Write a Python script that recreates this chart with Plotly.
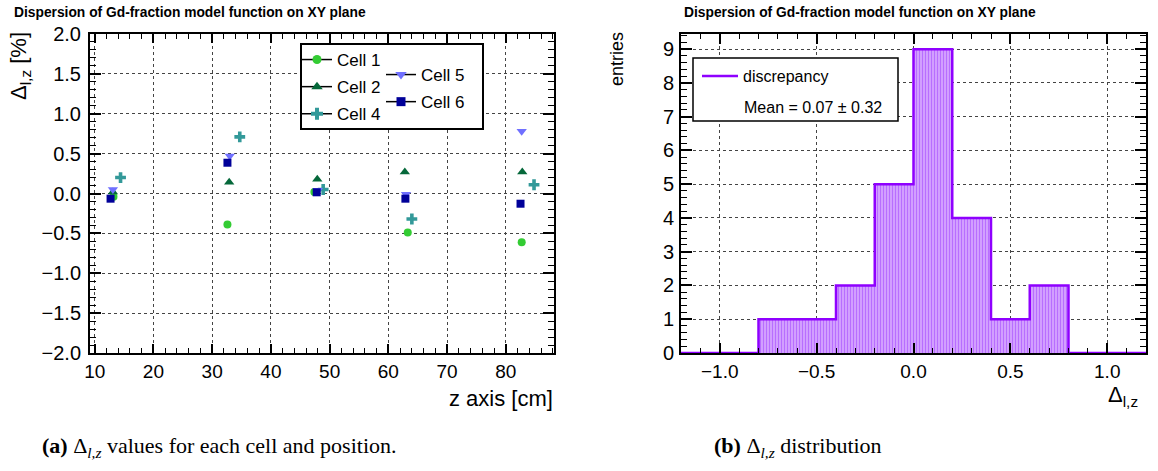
import plotly.graph_objects as go

# ---------------- data ----------------
cell_names = ["Cell 1", "Cell 2", "Cell 4", "Cell 5", "Cell 6"]
cell1_z = [13.2, 32.6, 47.4, 63.3, 82.7]
cell1_v = [-0.04, -0.39, 0.02, -0.49, -0.61]
cell2_z = [13.1, 32.9, 47.9, 62.8, 82.8]
cell2_v = [0.02, 0.14, 0.18, 0.27, 0.27]
cell4_z = [14.4, 34.7, 48.9, 64.0, 84.8]
cell4_v = [0.20, 0.71, 0.05, -0.32, 0.11]
cell5_z = [13.1, 33.0, 48.0, 63.0, 82.7]
cell5_v = [0.05, 0.47, 0.04, -0.01, 0.78]
cell6_z = [12.7, 32.6, 47.8, 62.9, 82.5]
cell6_v = [-0.065, 0.386, 0.015, -0.065, -0.128]

bin_edges = [-1.2, -1.0, -0.8, -0.6, -0.4, -0.2, 0.0, 0.2, 0.4, 0.6, 0.8, 1.0, 1.2]
bin_counts = [0, 0, 1, 1, 2, 5, 9, 4, 1, 2, 0, 0]
mean_text = "Mean = 0.07 ± 0.32"

# ---------------- styles ----------------
W, H = 1158, 471
def px(x):
    return x / W
def py(y):
    return 1 - y / H

FONT = "Liberation Sans, Arial, Helvetica, sans-serif"
SERIF = "Liberation Serif, Times New Roman, serif"
cell_styles = {
    "Cell 1": dict(symbol="circle", color="#33cc33", size=8),
    "Cell 2": dict(symbol="triangle-up", color="#05683a", size=9),
    "Cell 4": dict(symbol="cross", color="#339999", size=9),
    "Cell 5": dict(symbol="triangle-down", color="#7070ff", size=9),
    "Cell 6": dict(symbol="square", color="#000099", size=8),
}
cell_data = {
    "Cell 1": (cell1_z, cell1_v),
    "Cell 2": (cell2_z, cell2_v),
    "Cell 4": (cell4_z, cell4_v),
    "Cell 5": (cell5_z, cell5_v),
    "Cell 6": (cell6_z, cell6_v),
}
legend_of = {"Cell 1": "legend", "Cell 2": "legend", "Cell 4": "legend",
             "Cell 5": "legend2", "Cell 6": "legend2"}

fig = go.Figure()

for name in cell_names:
    z, v = cell_data[name]
    st = cell_styles[name]
    fig.add_trace(go.Scatter(
        x=z, y=v, mode="markers", name=name, showlegend=False,
        marker=dict(symbol=st["symbol"], color=st["color"], size=st["size"],
                    line=dict(width=0)),
        xaxis="x", yaxis="y"))
    # legend-only entry (black line + coloured marker, ROOT "lp" style)
    fig.add_trace(go.Scatter(
        x=[None], y=[None], mode="lines+markers", name=name,
        legend=legend_of[name], legendgroup=name,
        line=dict(color="black", width=1.5),
        marker=dict(symbol=st["symbol"], color=st["color"], size=st["size"] + 1,
                    line=dict(width=0)),
        xaxis="x", yaxis="y"))

# histogram fill
centers = [(a + b) / 2 for a, b in zip(bin_edges[:-1], bin_edges[1:])]
fig.add_trace(go.Bar(
    x=centers, y=bin_counts, width=0.2, showlegend=False,
    marker=dict(color="#c990ff",
                line=dict(width=0),
                pattern=dict(shape="|", fgcolor="#9a33ff", bgcolor="#d6a8ff",
                             size=3, solidity=0.45)),
    xaxis="x2", yaxis="y2"))
# histogram outline
fig.add_trace(go.Scatter(
    x=bin_edges, y=bin_counts + [bin_counts[-1]], mode="lines",
    line=dict(color="#8f00ff", width=2.5, shape="hv"),
    name="discrepancy", legend="legend3",
    xaxis="x2", yaxis="y2"))

axis_common = dict(
    showline=True, linecolor="black", linewidth=2, mirror="ticks",
    ticks="inside", tickcolor="black", tickwidth=1.5,
    showgrid=True, gridcolor="#444444", griddash="dot", gridwidth=1,
    zeroline=False, automargin=False,
    tickfont=dict(family=FONT, size=19, color="black"),
)
minor_common = dict(ticks="inside", tickcolor="black", tickwidth=1.2, showgrid=False)

# mirror axes carrying ticks on the top / right sides (ROOT draws ticks on all 4 sides)
mirror_common = dict(showline=False, ticks="inside", tickcolor="black", tickwidth=1.5,
                     showgrid=False, zeroline=False, showticklabels=False, automargin=False)

fig.update_layout(
    width=W, height=H,
    margin=dict(l=0, r=0, t=0, b=0, autoexpand=False),
    paper_bgcolor="white", plot_bgcolor="white",
    bargap=0,
    xaxis=dict(axis_common, domain=[px(90), px(554)], range=[9.2, 88.2],
               tick0=10, dtick=10, ticklen=9,
               minor=dict(minor_common, dtick=2, ticklen=5),
               anchor="y"),
    yaxis=dict(axis_common, domain=[py(353), py(34)], range=[-2, 2],
               tick0=0, dtick=0.5, tickformat=".1f", ticklen=11,
               tickfont=dict(family=FONT, size=20, color="black"), ticklabelstandoff=3,
               minor=dict(minor_common, dtick=0.1, ticklen=6),
               anchor="x"),
    xaxis2=dict(axis_common, domain=[px(681), px(1146)], range=[-1.2, 1.2],
                tick0=0, dtick=0.5, tickformat=".1f", ticklen=10,
                minor=dict(minor_common, dtick=0.1, ticklen=5),
                anchor="y2"),
    yaxis2=dict(axis_common, domain=[py(353), py(34)], range=[0, 9.45],
                tick0=0, dtick=1, ticklen=11, ticklabelstandoff=1,
                tickfont=dict(family=FONT, size=20, color="black"),
                minor=dict(minor_common, dtick=0.2, ticklen=6),
                anchor="x2"),
    xaxis3=dict(mirror_common, overlaying="x", matches="x", side="top", anchor="y",
                tick0=10, dtick=10, ticklen=9, minor=dict(minor_common, dtick=2, ticklen=5)),
    yaxis3=dict(mirror_common, overlaying="y", matches="y", side="right", anchor="x",
                tick0=0, dtick=0.5, ticklen=11, minor=dict(minor_common, dtick=0.1, ticklen=6)),
    xaxis4=dict(mirror_common, overlaying="x2", matches="x2", side="top", anchor="y2",
                tick0=0, dtick=0.5, ticklen=10, minor=dict(minor_common, dtick=0.1, ticklen=5)),
    yaxis4=dict(mirror_common, overlaying="y2", matches="y2", side="right", anchor="x2",
                tick0=0, dtick=1, ticklen=11, minor=dict(minor_common, dtick=0.2, ticklen=6)),
    legend=dict(x=px(297), y=py(42), xanchor="left", yanchor="top",
                bgcolor="rgba(0,0,0,0)", borderwidth=0,
                font=dict(family=FONT, size=17, color="black"),
                tracegroupgap=2, itemwidth=30),
    legend2=dict(x=px(381), y=py(57), xanchor="left", yanchor="top",
                 bgcolor="rgba(0,0,0,0)", borderwidth=0,
                 font=dict(family=FONT, size=17, color="black"),
                 tracegroupgap=2, itemwidth=30),
    legend3=dict(x=px(697), y=py(59), xanchor="left", yanchor="top",
                 bgcolor="rgba(0,0,0,0)", borderwidth=0,
                 font=dict(family=FONT, size=16, color="black"), itemwidth=36),
    shapes=[
        dict(type="rect", xref="paper", yref="paper",
             x0=px(301), x1=px(483), y0=py(129), y1=py(44),
             line=dict(color="black", width=2), fillcolor="white", layer="above"),
        dict(type="rect", xref="paper", yref="paper",
             x0=px(693), x1=px(898), y0=py(121), y1=py(58),
             line=dict(color="black", width=1.5), fillcolor="white", layer="above"),
    ],
    annotations=[
        dict(text="<b>Dispersion of Gd-fraction model function on XY plane</b>",
             x=px(12), y=py(13), xref="paper", yref="paper", xanchor="left", yanchor="middle",
             showarrow=False, font=dict(family=FONT, size=13.8, color="black")),
        dict(text="<b>Dispersion of Gd-fraction model function on XY plane</b>",
             x=px(682), y=py(13), xref="paper", yref="paper", xanchor="left", yanchor="middle",
             showarrow=False, font=dict(family=FONT, size=13.8, color="black")),
        dict(text="Δ<sub>l,z</sub> [%]", textangle=-90,
             x=px(20), y=py(30), xref="paper", yref="paper", xanchor="center", yanchor="top",
             showarrow=False, font=dict(family=FONT, size=22, color="black")),
        dict(text="entries", textangle=-90,
             x=px(617), y=py(30), xref="paper", yref="paper", xanchor="center", yanchor="top",
             showarrow=False, font=dict(family=FONT, size=18, color="black")),
        dict(text="z axis [cm]",
             x=px(555), y=py(398), xref="paper", yref="paper", xanchor="right", yanchor="middle",
             showarrow=False, font=dict(family=FONT, size=22, color="black")),
        dict(text="Δ<sub>l,z</sub>",
             x=px(1140), y=py(396), xref="paper", yref="paper", xanchor="right", yanchor="middle",
             showarrow=False, font=dict(family=FONT, size=22, color="black")),
        dict(text=mean_text,
             x=px(742), y=py(108), xref="paper", yref="paper", xanchor="left", yanchor="middle",
             showarrow=False, font=dict(family=FONT, size=16, color="black")),
        dict(text="<b>(a)</b> Δ<sub><i>l,z</i></sub> values for each cell and position.",
             x=px(40), y=py(447), xref="paper", yref="paper", xanchor="left", yanchor="middle",
             showarrow=False, font=dict(family=SERIF, size=22, color="black")),
        dict(text="<b>(b)</b> Δ<sub><i>l,z</i></sub> distribution",
             x=px(712), y=py(447), xref="paper", yref="paper", xanchor="left", yanchor="middle",
             showarrow=False, font=dict(family=SERIF, size=22, color="black")),
    ],
)

fig.write_html("out.html", config={"displayModeBar": False},
               post_script="document.body.style.margin='0';document.body.style.padding='0';")
